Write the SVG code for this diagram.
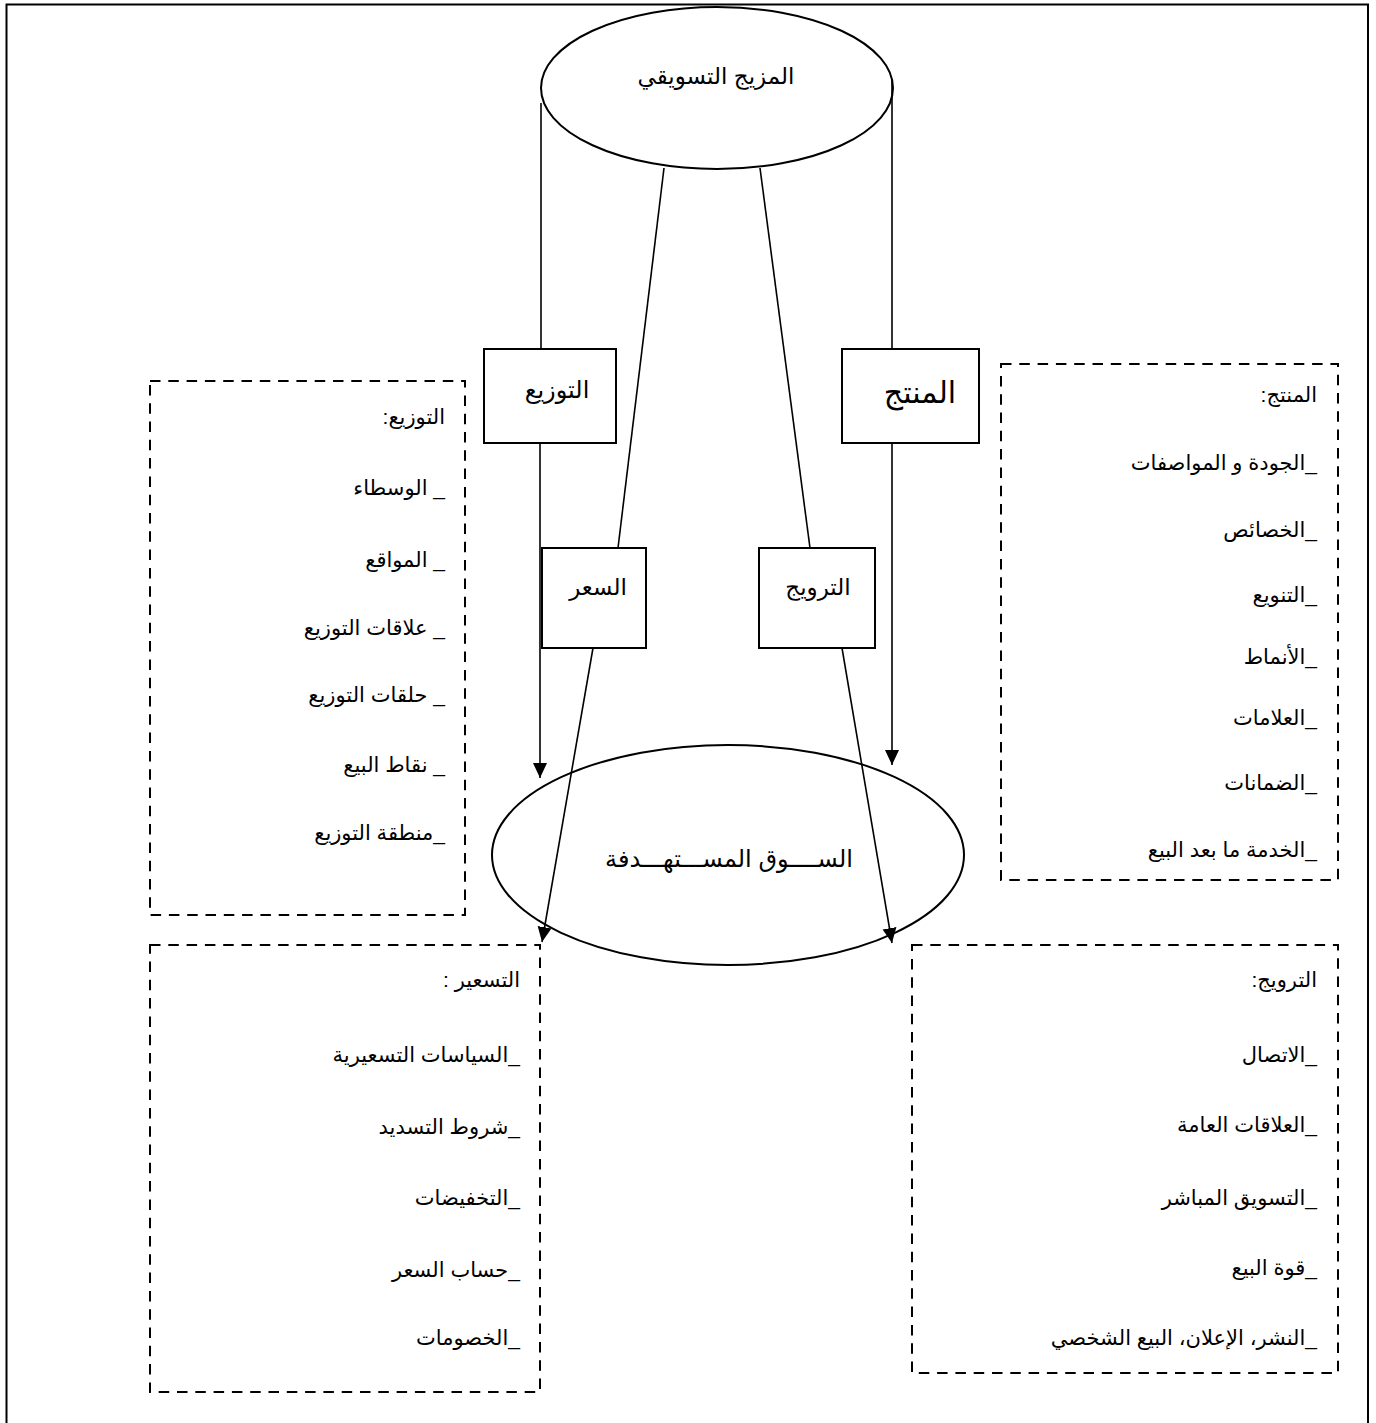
<svg xmlns="http://www.w3.org/2000/svg" width="1376" height="1423" viewBox="0 0 1376 1423">
<defs>
<style>
.t{font-family:"Liberation Sans","DejaVu Sans",sans-serif;fill:#000;direction:rtl;}
.lst{font-size:21px;}
.box{fill:#fff;stroke:#000;stroke-width:2;}
.dash{fill:none;stroke:#000;stroke-width:2;stroke-dasharray:10.5 7.8;}
.ln{fill:none;stroke:#000;stroke-width:1.6;}
</style>
<marker id="ah" markerUnits="userSpaceOnUse" markerWidth="16" markerHeight="16" viewBox="0 0 16 16" refX="15" refY="8" orient="auto">
<path d="M0,1 L15,8 L0,15 Z" fill="#000"/>
</marker>
</defs>
<rect x="0" y="0" width="1376" height="1423" fill="#fff"/>
<rect x="6.5" y="4.5" width="1361.5" height="1440" fill="none" stroke="#000" stroke-width="2"/>

<g id="connectors">
<line class="ln" x1="541" y1="103" x2="541" y2="349"/>
<line class="ln" x1="540" y1="443" x2="540" y2="778" marker-end="url(#ah)"/>
<line class="ln" x1="892" y1="80" x2="892" y2="349"/>
<line class="ln" x1="892" y1="443" x2="892" y2="765" marker-end="url(#ah)"/>
<line class="ln" x1="664" y1="168" x2="618" y2="548"/>
<line class="ln" x1="760" y1="168" x2="810" y2="548"/>
<line class="ln" x1="593" y1="648" x2="542" y2="942" marker-end="url(#ah)"/>
<line class="ln" x1="842" y1="648" x2="892" y2="943" marker-end="url(#ah)"/>
</g>

<g id="mix">
<ellipse cx="717" cy="88" rx="176" ry="81" fill="none" stroke="#000" stroke-width="2"/>
<text class="t" x="716" y="84" font-size="23" text-anchor="middle">المزيج التسويقي</text>
</g>

<g id="market">
<ellipse cx="728" cy="855" rx="236" ry="110" fill="none" stroke="#000" stroke-width="2"/>
<text class="t" x="729" y="867" font-size="24" text-anchor="middle">الســــوق المســـتهـــدفة</text>
</g>

<g id="distribution">
<rect class="box" x="484" y="349" width="132" height="94"/>
<text class="t" x="557" y="398" font-size="24" text-anchor="middle">التوزيع</text>
</g>
<g id="product">
<rect class="box" x="842" y="349" width="137" height="94"/>
<text class="t" x="920" y="403" font-size="30" text-anchor="middle">المنتج</text>
</g>
<g id="price">
<rect class="box" x="542" y="548" width="104" height="100"/>
<text class="t" x="598" y="595" font-size="23" text-anchor="middle">السعر</text>
</g>
<g id="promotion">
<rect class="box" x="759" y="548" width="116" height="100"/>
<text class="t" x="818" y="595" font-size="23" text-anchor="middle">الترويج</text>
</g>

<g id="distribution-details">
<rect class="dash" x="150" y="381" width="315" height="534"/>
<g class="t lst" text-anchor="start">
<text x="445" y="424">التوزيع:</text>
<text x="445" y="495">_ الوسطاء</text>
<text x="445" y="567">_ المواقع</text>
<text x="445" y="635">_ علاقات التوزيع</text>
<text x="445" y="702">_ حلقات التوزيع</text>
<text x="445" y="772">_ نقاط البيع</text>
<text x="445" y="840">_منطقة التوزيع</text>
</g>
</g>

<g id="product-details">
<rect class="dash" x="1001" y="364" width="337" height="516"/>
<g class="t lst" text-anchor="start">
<text x="1317" y="402">المنتج:</text>
<text x="1317" y="470">_الجودة و المواصفات</text>
<text x="1317" y="537">_الخصائص</text>
<text x="1317" y="602">_التنويع</text>
<text x="1317" y="664">_الأنماط</text>
<text x="1317" y="725">_العلامات</text>
<text x="1317" y="790">_الضمانات</text>
<text x="1317" y="857">_الخدمة ما بعد البيع</text>
</g>
</g>

<g id="price-details">
<rect class="dash" x="150" y="945" width="390" height="447"/>
<g class="t lst" text-anchor="start">
<text x="520" y="987">التسعير :</text>
<text x="520" y="1062">_السياسات التسعيرية</text>
<text x="520" y="1134">_شروط التسديد</text>
<text x="520" y="1205">_التخفيضات</text>
<text x="520" y="1277">_حساب السعر</text>
<text x="520" y="1345">_الخصومات</text>
</g>
</g>

<g id="promotion-details">
<rect class="dash" x="912" y="945" width="426" height="428"/>
<g class="t lst" text-anchor="start">
<text x="1317" y="987">الترويج:</text>
<text x="1317" y="1062">_الاتصال</text>
<text x="1317" y="1132">_العلاقات العامة</text>
<text x="1317" y="1205">_التسويق المباشر</text>
<text x="1317" y="1275">_قوة البيع</text>
<text x="1317" y="1345">_النشر، الإعلان، البيع الشخصي</text>
</g>
</g>
</svg>
